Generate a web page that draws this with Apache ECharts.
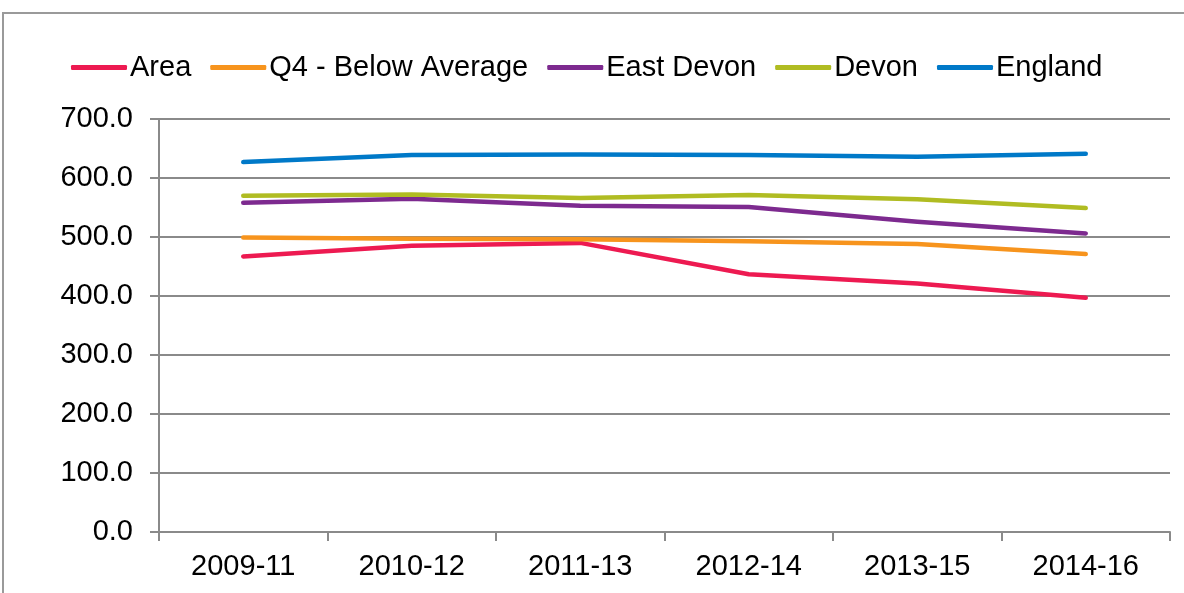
<!DOCTYPE html>
<html>
<head>
<meta charset="utf-8">
<script src="https://cdn.jsdelivr.net/npm/echarts@6/dist/echarts.min.js"></script>
<style>
  html, body { margin: 0; padding: 0; background: #fff; }
  #chart { width: 1184px; height: 593px; }
</style>
</head>
<body>
<div id="chart"></div>
<script>
// Three-year periods on the x axis
const periods = ['2009-11', '2010-12', '2011-13', '2012-14', '2013-15', '2014-16'];

// Rates per period for each geography
const areaValues = [467, 485, 490, 437, 421, 397];
const q4BelowAverage = [499, 497, 496, 493, 488, 471];
const eastDevon = [558, 565, 553, 551, 526, 506];
const devon = [570, 572, 566, 571, 564, 549];
const england = [627, 639, 640, 639, 636, 641];

const seriesNames = ['Area', 'Q4 - Below Average', 'East Devon', 'Devon', 'England'];
const seriesColors = ['#ED1A51', '#F7941D', '#7D2A8F', '#B0BC22', '#0079C8'];
const seriesData = [areaValues, q4BelowAverage, eastDevon, devon, england];

const gridGrey = '#8a8a8a';
const font = 'Liberation Sans, Arial, sans-serif';

const chart = echarts.init(document.getElementById('chart'), null, { renderer: 'canvas' });

chart.setOption({
  animation: false,
  backgroundColor: '#ffffff',
  graphic: [{
    type: 'rect',
    shape: { x: 3, y: 13, width: 1200, height: 620 },
    style: { fill: 'none', stroke: '#9a9a9a', lineWidth: 2 },
    silent: true,
    z: -1
  }],
  legend: {
    top: 48,
    left: 66,
    icon: 'roundRect',
    itemWidth: 56,
    itemHeight: 5,
    itemGap: 19,
    textStyle: { fontFamily: font, fontSize: 29, color: '#000', padding: [0, 0, 0, -2] },
    data: seriesNames
  },
  grid: { left: 159, right: 14, top: 119, bottom: 61 },
  xAxis: {
    type: 'category',
    data: periods,
    boundaryGap: true,
    axisLine: { show: true, lineStyle: { color: gridGrey, width: 2 } },
    axisTick: { show: true, length: 9, alignWithLabel: false, lineStyle: { color: gridGrey, width: 2 } },
    axisLabel: { fontFamily: font, fontSize: 29, color: '#000', margin: 20 },
    splitLine: { show: false }
  },
  yAxis: {
    type: 'value',
    min: 0,
    max: 700,
    interval: 100,
    axisLine: { show: true, lineStyle: { color: gridGrey, width: 2 } },
    axisTick: { show: true, length: 9, lineStyle: { color: gridGrey, width: 2 } },
    axisLabel: {
      fontFamily: font, fontSize: 29, color: '#000', margin: 26,
      formatter: v => v.toFixed(1)
    },
    splitLine: { show: true, lineStyle: { color: gridGrey, width: 2 } }
  },
  series: seriesNames.map((name, i) => ({
    name: name,
    type: 'line',
    data: seriesData[i],
    symbol: 'none',
    showSymbol: false,
    color: seriesColors[i],
    lineStyle: { color: seriesColors[i], width: 4.5, cap: 'round', join: 'round' }
  }))
});
</script>
</body>
</html>
